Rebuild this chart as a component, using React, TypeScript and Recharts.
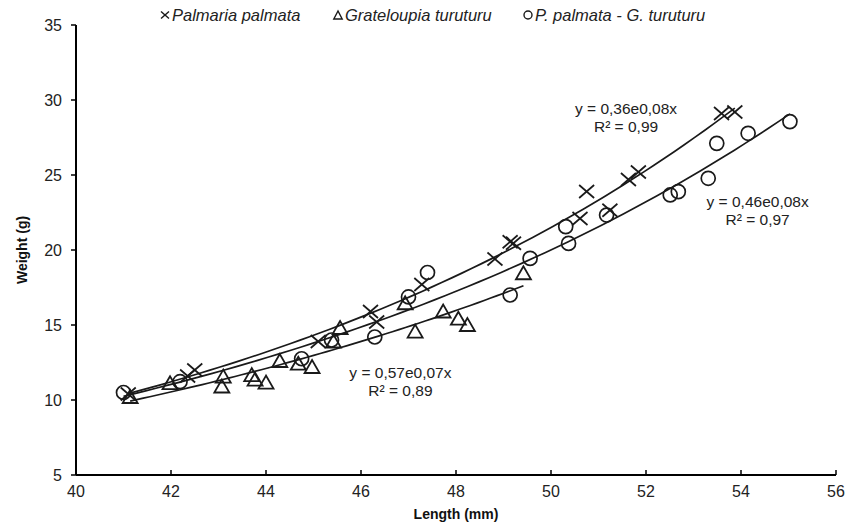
import React from 'react';
import { ComposedChart, Scatter, XAxis, YAxis, ReferenceDot } from 'recharts';

const palmariaX = [41.1, 42.35, 42.5, 45.1, 46.2, 46.33, 47.28, 48.82, 49.14, 49.21, 50.61, 50.75, 51.24, 51.63, 51.84, 53.59, 53.87];
const palmariaY = [10.4, 11.6, 12.0, 13.9, 15.9, 15.2, 17.7, 19.4, 20.55, 20.45, 22.1, 23.9, 22.65, 24.7, 25.2, 29.1, 29.2];

const gratelX = [41.14, 41.98, 43.1, 43.07, 43.7, 43.77, 44.0, 44.29, 44.68, 44.97, 45.42, 45.56, 46.93, 47.14, 47.73, 48.05, 48.24, 49.42];
const gratelY = [10.2, 11.12, 11.56, 10.9, 11.66, 11.36, 11.16, 12.6, 12.42, 12.2, 13.9, 14.8, 16.45, 14.56, 15.9, 15.42, 15.0, 18.45];

const mixX = [41.0, 42.19, 44.75, 45.38, 46.29, 47.0, 47.4, 49.14, 49.56, 50.31, 50.37, 51.17, 52.51, 52.68, 53.31, 53.49, 54.15, 55.03];
const mixY = [10.5, 11.22, 12.75, 14.0, 14.2, 16.87, 18.5, 17.0, 19.44, 21.56, 20.44, 22.33, 23.67, 23.89, 24.78, 27.11, 27.78, 28.56];

const xTicks = [40, 42, 44, 46, 48, 50, 52, 54, 56];
const yTicks = [5, 10, 15, 20, 25, 30, 35];

const legendNames = ['Palmaria palmata', 'Grateloupia turuturu', 'P. palmata - G. turuturu'];
const eqPalmaria = ['y = 0,36e0,08x', 'R² = 0,99'];
const eqGratel = ['y = 0,57e0,07x', 'R² = 0,89'];
const eqMix = ['y = 0,46e0,08x', 'R² = 0,97'];

const INK = '#1a1a1a';
const FONT = '"Liberation Sans", Arial, Helvetica, sans-serif';
const LEGEND_LEFT = [160, 333, 523];

const toPoints = (xs: number[], ys: number[]) => xs.map((x, i) => ({ x, y: ys[i] }));

// least-squares exponential fit (ln y = ln a + b x), like a spreadsheet trendline
const expFit = (xs: number[], ys: number[]) => {
  const n = xs.length;
  const ly = ys.map((v) => Math.log(v));
  const mx = xs.reduce((s, v) => s + v, 0) / n;
  const my = ly.reduce((s, v) => s + v, 0) / n;
  let sxy = 0;
  let sxx = 0;
  for (let i = 0; i < n; i++) {
    sxy += (xs[i] - mx) * (ly[i] - my);
    sxx += (xs[i] - mx) * (xs[i] - mx);
  }
  const b = sxy / sxx;
  const a = Math.exp(my - b * mx);
  const lo = Math.min(...xs);
  const hi = Math.max(...xs);
  const pts = [] as { x: number; y: number }[];
  const steps = 60;
  for (let i = 0; i <= steps; i++) {
    const x = lo + ((hi - lo) * i) / steps;
    pts.push({ x, y: a * Math.exp(b * x) });
  }
  return pts;
};

const XMark = (props: any) => {
  const { cx, cy } = props;
  if (cx == null || cy == null) return <g />;
  return (
    <g stroke={INK} strokeWidth={1.7} fill="none">
      <line x1={cx - 7.5} y1={cy - 6.5} x2={cx + 7.5} y2={cy + 6.5} />
      <line x1={cx - 7.5} y1={cy + 6.5} x2={cx + 7.5} y2={cy - 6.5} />
    </g>
  );
};

const TriMark = (props: any) => {
  const { cx, cy } = props;
  if (cx == null || cy == null) return <g />;
  return (
    <polygon
      points={`${cx},${cy - 7} ${cx - 7.5},${cy + 6} ${cx + 7.5},${cy + 6}`}
      stroke={INK}
      strokeWidth={1.8}
      fill="none"
      strokeLinejoin="miter"
    />
  );
};

const CircMark = (props: any) => {
  const { cx, cy } = props;
  if (cx == null || cy == null) return <g />;
  return <circle cx={cx} cy={cy} r={7} stroke={INK} strokeWidth={1.7} fill="none" />;
};

const NoMark = () => <g />;

const EqLabel = (props: any) => {
  const { viewBox, lines } = props;
  const x = viewBox.x + (viewBox.width || 0) / 2;
  const y = viewBox.y + (viewBox.height || 0) / 2;
  return (
    <text x={x} y={y} textAnchor="middle" fontSize={15.5} fill="#222" fontFamily={FONT}>
      <tspan x={x} dy={0}>{lines[0]}</tspan>
      <tspan x={x} dy={18.5}>{lines[1]}</tspan>
    </text>
  );
};

const LegendIcon = ({ kind }: { kind: number }) => (
  <svg width={10} height={10} style={{ marginRight: 2, overflow: 'visible' }}>
    {kind === 0 && (
      <g stroke={INK} strokeWidth={1.4}>
        <line x1={1} y1={1.5} x2={9} y2={8.5} />
        <line x1={1} y1={8.5} x2={9} y2={1.5} />
      </g>
    )}
    {kind === 1 && <polygon points="5,1 0.8,9 9.2,9" stroke={INK} strokeWidth={1.4} fill="none" />}
    {kind === 2 && <circle cx={5} cy={5} r={4} stroke={INK} strokeWidth={1.4} fill="none" />}
  </svg>
);

export default function App() {
  const pal = toPoints(palmariaX, palmariaY);
  const gra = toPoints(gratelX, gratelY);
  const mix = toPoints(mixX, mixY);
  const palFit = expFit(palmariaX, palmariaY);
  const graFit = expFit(gratelX, gratelY);
  const mixFit = expFit(mixX, mixY);

  return (
    <div style={{ position: 'absolute', left: 0, top: 0, width: 854, height: 526, background: '#fff', fontFamily: FONT }}>
      {legendNames.map((n, i) => (
        <div
          key={n}
          style={{
            position: 'absolute',
            top: 6,
            left: LEGEND_LEFT[i],
            display: 'flex',
            alignItems: 'center',
            fontSize: 16.5,
            fontStyle: 'italic',
            color: '#222',
            lineHeight: '18px',
            whiteSpace: 'nowrap',
            zIndex: 2,
          }}
        >
          <LegendIcon kind={i} />
          <span>{n}</span>
        </div>
      ))}
      <ComposedChart width={854} height={526} margin={{ top: 25, right: 18, bottom: 21, left: 16 }}>
        <XAxis
          type="number"
          dataKey="x"
          domain={[40, 56]}
          ticks={xTicks}
          allowDataOverflow
          tickSize={-5}
          tickMargin={16}
          height={30}
          axisLine={{ stroke: '#000', strokeWidth: 2 }}
          tickLine={{ stroke: '#000', strokeWidth: 1.5 }}
          tick={{ fontSize: 16, fill: '#222', fontFamily: FONT }}
          label={{ value: 'Length (mm)', position: 'insideBottom', offset: -14, fontSize: 14, fontWeight: 'bold', fill: '#111', fontFamily: FONT }}
        />
        <YAxis
          type="number"
          dataKey="y"
          domain={[5, 35]}
          ticks={yTicks}
          allowDataOverflow
          width={60}
          tickSize={5}
          tickMargin={9}
          axisLine={{ stroke: '#000', strokeWidth: 2 }}
          tickLine={{ stroke: '#000', strokeWidth: 1.5 }}
          tick={{ fontSize: 16, fill: '#222', fontFamily: FONT }}
          label={{ value: 'Weight (g)', angle: -90, position: 'insideLeft', offset: 6, fontSize: 14, fontWeight: 'bold', fill: '#111', fontFamily: FONT, style: { textAnchor: 'middle' } }}
        />
        <Scatter data={palFit} shape={NoMark} line={{ stroke: INK, strokeWidth: 1.7 }} isAnimationActive={false} />
        <Scatter data={graFit} shape={NoMark} line={{ stroke: INK, strokeWidth: 1.7 }} isAnimationActive={false} />
        <Scatter data={mixFit} shape={NoMark} line={{ stroke: INK, strokeWidth: 1.7 }} isAnimationActive={false} />
        <Scatter data={gra} shape={TriMark} isAnimationActive={false} />
        <Scatter data={mix} shape={CircMark} isAnimationActive={false} />
        <Scatter data={pal} shape={XMark} isAnimationActive={false} />
        <ReferenceDot x={51.58} y={29.1} r={0} fill="none" stroke="none" label={<EqLabel lines={eqPalmaria} />} />
        <ReferenceDot x={54.35} y={22.9} r={0} fill="none" stroke="none" label={<EqLabel lines={eqMix} />} />
        <ReferenceDot x={46.83} y={11.5} r={0} fill="none" stroke="none" label={<EqLabel lines={eqGratel} />} />
      </ComposedChart>
    </div>
  );
}
